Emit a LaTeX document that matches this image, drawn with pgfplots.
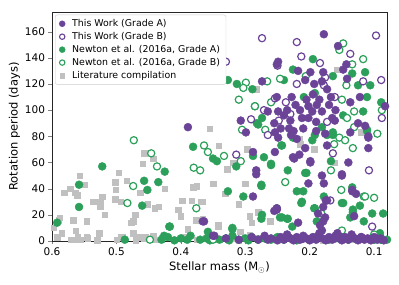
\documentclass[border=0pt]{standalone}
\usepackage{pgfplots}
\pgfplotsset{compat=1.18}
\usepackage{fontspec}
\setmainfont{DejaVu Sans}
\definecolor{twpurple}{RGB}{107,68,152}
\definecolor{nwgreen}{RGB}{44,160,90}
\definecolor{litgray}{RGB}{192,192,192}
\begin{document}
\begin{tikzpicture}
\begin{axis}[
  scale only axis, width=335pt, height=229pt,
  x dir=reverse, xmin=0.08, xmax=0.6, ymin=0, ymax=175,
  xtick={0.1,0.2,0.3,0.4,0.5,0.6}, ytick={0,20,40,60,80,100,120,140,160},
  xticklabel style={/pgf/number format/fixed,/pgf/number format/precision=1,/pgf/number format/fixed zerofill},
  /pgf/number format/assume math mode=true,
  tick label style={font=\fontsize{10.5}{12}\selectfont},
  label style={font=\fontsize{11.5}{13}\selectfont},
  xlabel={Stellar mass (M$_{\odot}$)}, ylabel={Rotation period (days)},
  xlabel style={yshift=1pt}, ylabel style={yshift=-2pt},
  tick pos=left, tick align=outside, major tick length=3.5pt,
  axis line style={black!85, line width=0.8pt},
  legend cell align=left,
  legend style={at={(0.009,0.988)}, anchor=north west, font=\fontsize{9.4}{11.2}\selectfont,
    draw=black!20, rounded corners=2pt, row sep=0.3pt, inner xsep=4pt, inner ysep=2.5pt,
    /tikz/every odd column/.append style={column sep=5pt}},
]
\addlegendimage{only marks, mark=*, mark size=3pt, draw=twpurple, fill=twpurple}
\addlegendentry{This Work (Grade A)}
\addlegendimage{only marks, mark=*, mark size=2.7pt, draw=twpurple, fill=white, line width=1.1pt}
\addlegendentry{This Work (Grade B)}
\addlegendimage{only marks, mark=*, mark size=3pt, draw=nwgreen, fill=nwgreen}
\addlegendentry{Newton et al. (2016a, Grade A)}
\addlegendimage{only marks, mark=*, mark size=2.7pt, draw=nwgreen, fill=white, line width=1.1pt}
\addlegendentry{Newton et al. (2016a, Grade B)}
\addlegendimage{only marks, mark=square*, mark size=2.3pt, draw=litgray, fill=litgray}
\addlegendentry{Literature compilation}

% Literature compilation
\addplot[forget plot, only marks, mark=square*, mark size=2.7pt, draw=litgray, fill=litgray] table {
x y
0.581 37
0.572 40
0.564 37
0.561 35
0.557 50
0.549 43
0.536 30
0.525 30
0.525 26
0.522 34
0.518 20
0.496 52
0.502 45
0.484 46
0.501 39
0.502 32
0.493 30
0.459 59
0.457 67
0.443 63
0.463 37
0.451 28
0.441 25
0.434 26
0.425 40
0.471 20
0.477 14
0.474 15
0.588 18
0.590 16
0.567 16
0.546 15
0.563 8
0.527 6
0.546 3
0.560 3
0.570 1
0.555 1
0.493 3
0.474 6
0.463 3
0.457 2
0.443 4
0.597 10
0.592 3
0.585 6
0.355 86
0.283 116
0.341 73
0.297 70
0.328 55
0.317 60
0.319 60
0.375 42
0.381 41
0.350 44
0.300 44
0.331 36
0.398 31
0.383 31
0.369 30
0.367 30
0.310 28
0.404 24
0.400 19
0.376 16
0.366 17
0.342 12
0.342 11
0.389 9
0.293 19
0.290 14
0.261 15
0.280 22
0.308 7
0.293 5
0.157 131
0.216 78
0.215 74
0.193 70
0.192 70
0.161 60
0.120 83
0.56 1
0.545 2
0.53 0.5
0.50 1
0.49 3
0.47 0.5
0.455 3
0.44 1
0.43 2
0.41 1
0.395 3
0.375 1
0.36 2
0.34 1
0.32 2
0.31 0.5
0.28 2
0.26 1
0.24 3
0.22 1
0.20 2
0.18 0.5
0.16 2
0.13 1
0.10 1
};

% Newton et al. Grade A
\addplot[forget plot, only marks, mark=*, mark size=4pt, draw=nwgreen, fill=nwgreen] table {
x y
0.522 57
0.425 53
0.558 43
0.457 46
0.435 45
0.452 39
0.558 26
0.460 27
0.592 14
0.418 11
0.487 1
0.426 4
0.327 123
0.313 120
0.289 116
0.274 94
0.280 89
0.282 90
0.381 72
0.350 63
0.344 61
0.314 57
0.288 65
0.271 64
0.260 58
0.260 59
0.327 38
0.303 34
0.275 42
0.275 43
0.274 20
0.275 17
0.251 25
0.417 11
0.358 7
0.320 9
0.320 10
0.195 139
0.226 131
0.164 126
0.134 128
0.114 129
0.240 123
0.125 119
0.106 119
0.209 110
0.192 113
0.111 110
0.089 106
0.181 87
0.148 96
0.117 99
0.111 84
0.111 85
0.243 73
0.244 73
0.226 79
0.196 77
0.164 81
0.192 81
0.173 81
0.164 83
0.167 61
0.234 54
0.207 52
0.205 52
0.134 41
0.220 38
0.210 38
0.213 29
0.212 30
0.178 34
0.150 29
0.148 29
0.122 27
0.086 21
0.103 21
0.243 18
0.234 17
0.246 18
0.235 17
0.193 25
0.192 25
0.189 15
0.137 18
0.133 22
0.133 24
0.227 11
0.116 15
0.091 6
0.285 103
0.43 1
0.42 3
0.41 0.5
0.40 2
0.39 1
0.385 4
0.37 1
0.36 2
0.355 0.5
0.35 3
0.34 1
0.33 2
0.325 0.5
0.32 4
0.31 1
0.30 2
0.295 0.5
0.29 3
0.28 1
0.27 2
0.26 1
0.25 3
0.24 1
0.23 2
0.22 0.5
0.21 2
0.20 1
0.19 3
0.17 1
0.16 2
0.14 1
0.12 2
0.10 1
0.09 3
0.08 1
};

% Newton et al. Grade B
\addplot[forget plot, only marks, mark=*, mark size=3.6pt, draw=nwgreen, fill=white, line width=1.2pt] table {
x y
0.473 77
0.446 67
0.437 57
0.474 42
0.483 29
0.448 1
0.299 121
0.303 117
0.266 122
0.310 108
0.285 103
0.260 106
0.305 85
0.269 85
0.364 73
0.358 68
0.333 65
0.307 61
0.380 56
0.370 54
0.376 25
0.148 151
0.154 146
0.117 139
0.206 126
0.134 135
0.143 119
0.246 124
0.150 108
0.142 94
0.131 99
0.088 100
0.131 87
0.095 82
0.154 79
0.145 77
0.162 74
0.133 71
0.167 54
0.238 45
0.151 39
0.116 34
0.114 34
0.100 33
0.182 21
0.150 8
0.100 5
0.35 1
0.13 2
0.09 1
};

% This Work Grade B
\addplot[forget plot, only marks, mark=*, mark size=3.6pt, draw=twpurple, fill=white, line width=1.2pt] table {
x y
0.330 137
0.274 155
0.220 152
0.097 157
0.213 141
0.137 143
0.184 136
0.250 134
0.176 125
0.117 122
0.089 123
0.220 120
0.178 119
0.237 106
0.161 110
0.271 100
0.291 93
0.265 81
0.314 66
0.248 92
0.230 97
0.173 91
0.088 94
0.164 67
0.108 54
0.168 31
0.103 11
0.254 109
0.12 3
0.21 2
};

% This Work Grade A
\addplot[forget plot, only marks, mark=*, mark size=4pt, draw=twpurple, fill=twpurple] table {
x y
0.389 87
0.366 15
0.348 4
0.364 15
0.350 4
0.307 92
0.274 122
0.251 135
0.265 99
0.255 90
0.288 68
0.254 68
0.283 54
0.283 51
0.288 34
0.255 23
0.178 158
0.156 149
0.249 137
0.218 130
0.199 129
0.179 129
0.143 135
0.148 131
0.142 124
0.207 123
0.193 120
0.181 122
0.251 110
0.173 116
0.167 110
0.137 106
0.122 110
0.083 103
0.202 103
0.189 104
0.249 99
0.230 92
0.212 94
0.202 94
0.196 99
0.190 91
0.181 99
0.165 94
0.161 92
0.125 90
0.114 88
0.137 83
0.109 79
0.109 80
0.109 71
0.249 79
0.207 71
0.176 82
0.173 73
0.216 66
0.226 64
0.224 63
0.199 61
0.199 60
0.140 60
0.150 51
0.150 50
0.181 50
0.202 44
0.178 44
0.134 38
0.134 39
0.128 36
0.175 31
0.173 31
0.251 24
0.251 25
0.187 21
0.176 18
0.179 15
0.184 12
0.181 8
0.179 26
0.131 19
0.218 14
0.157 6
0.240 96
0.235 100
0.222 104
0.215 100
0.205 108
0.228 110
0.195 112
0.185 108
0.170 104
0.160 100
0.245 86
0.232 86
0.229 81
0.225 84
0.210 86
0.190 84
0.220 78
0.299 83
0.254 83
0.33 2
0.31 1
0.29 3
0.28 1
0.27 4
0.265 1
0.26 2
0.25 0.5
0.245 3
0.24 1
0.235 5
0.23 2
0.225 0.5
0.22 3
0.215 1
0.21 4
0.205 2
0.20 0.5
0.195 3
0.19 1
0.185 6
0.18 2
0.175 0.5
0.17 3
0.165 1
0.16 4
0.155 2
0.15 0.5
0.145 3
0.14 1
0.135 5
0.13 2
0.125 0.5
0.12 3
0.115 1
0.11 2
0.105 0.5
0.10 3
0.095 1
0.09 2
0.085 0.5
0.232 2.5
0.212 1.5
0.192 2
0.172 1.5
0.152 3
0.142 2
0.117 2
0.097 2
};
\end{axis}
\path ([shift={(-52pt,-44pt)}]current axis.south west) rectangle ([shift={(12pt,12pt)}]current axis.north east);
\end{tikzpicture}
\end{document}
